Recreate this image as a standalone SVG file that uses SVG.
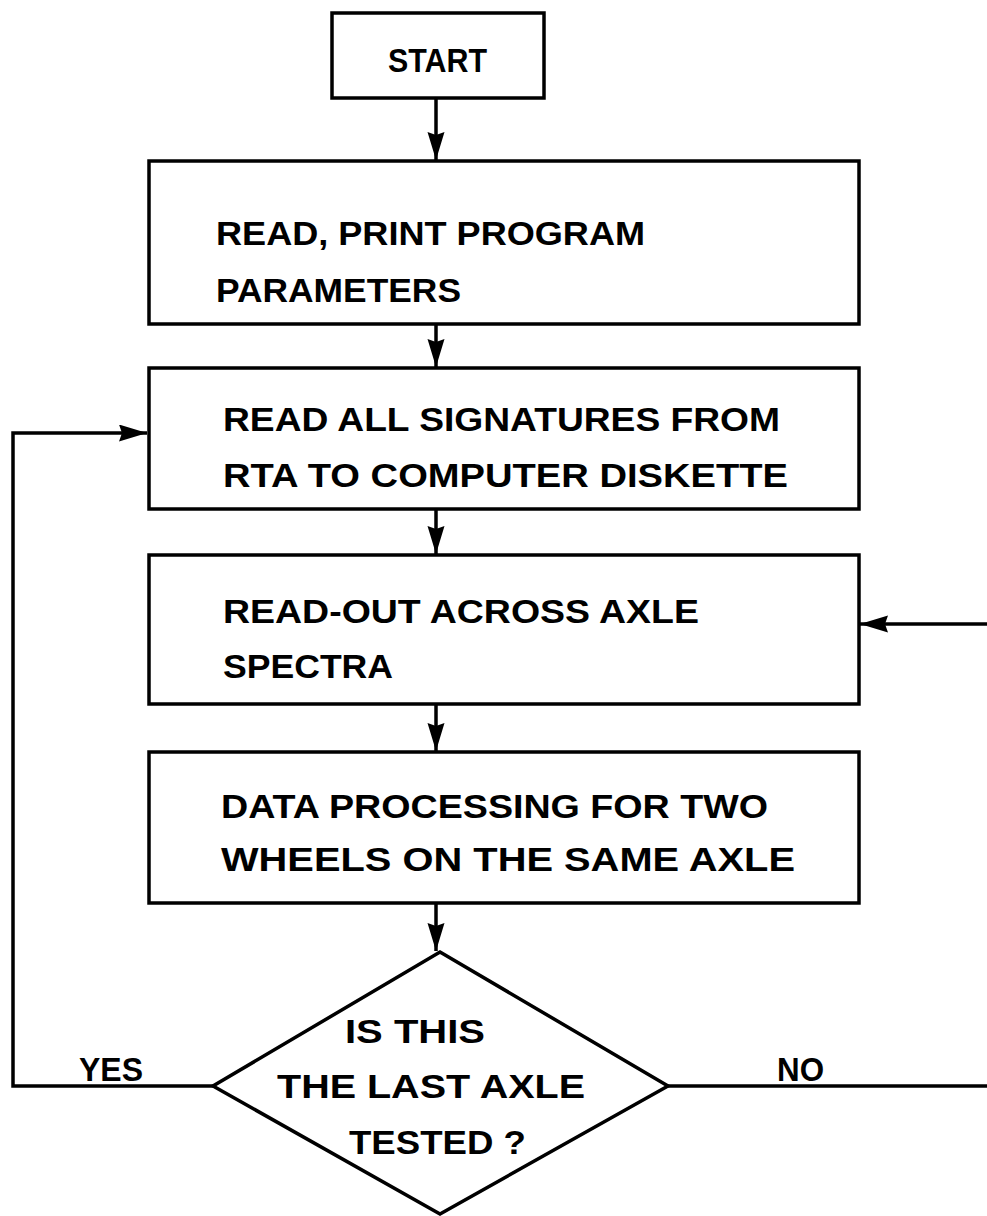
<svg xmlns="http://www.w3.org/2000/svg" width="987" height="1216" viewBox="0 0 987 1216">
<style>
.box{fill:none;stroke:#000;stroke-width:3.5}
.ln{fill:none;stroke:#000;stroke-width:3.5}
.t{font-family:"Liberation Sans",Arial,sans-serif;font-weight:bold;font-size:33px;fill:#000}
</style>
<defs>
<marker id="ah" markerUnits="userSpaceOnUse" markerWidth="30" markerHeight="18" refX="28" refY="8.5" orient="auto">
<path d="M0,0 L28,8.5 L0,17 L3,8.5 z" fill="#000"/>
</marker>
</defs>
<rect width="987" height="1216" fill="#fff"/>
<g id="connectors">
<line class="ln" x1="436" y1="98" x2="436" y2="160" marker-end="url(#ah)"/>
<line class="ln" x1="436" y1="324" x2="436" y2="367" marker-end="url(#ah)"/>
<line class="ln" x1="436" y1="509" x2="436" y2="554" marker-end="url(#ah)"/>
<line class="ln" x1="436" y1="704" x2="436" y2="751" marker-end="url(#ah)"/>
<line class="ln" x1="436" y1="903" x2="436" y2="951" marker-end="url(#ah)"/>
<polyline class="ln" points="213,1086 13,1086 13,433 147,433" marker-end="url(#ah)"/>
<line class="ln" x1="668" y1="1086" x2="987" y2="1086"/>
<line class="ln" x1="987" y1="624" x2="860" y2="624" marker-end="url(#ah)"/>
<text class="t" x="79" y="1081" textLength="64" lengthAdjust="spacingAndGlyphs">YES</text>
<text class="t" x="777" y="1081" textLength="47" lengthAdjust="spacingAndGlyphs">NO</text>
</g>
<g id="start">
<rect class="box" x="332" y="13" width="212" height="85"/>
<text class="t" x="388" y="72" textLength="99" lengthAdjust="spacingAndGlyphs">START</text>
</g>
<g id="read-params">
<rect class="box" x="149" y="161" width="710" height="163"/>
<text class="t" x="216" y="245" textLength="429" lengthAdjust="spacingAndGlyphs">READ, PRINT PROGRAM</text>
<text class="t" x="216" y="302" textLength="245" lengthAdjust="spacingAndGlyphs">PARAMETERS</text>
</g>
<g id="read-signatures">
<rect class="box" x="149" y="368" width="710" height="141"/>
<text class="t" x="223" y="431" textLength="557" lengthAdjust="spacingAndGlyphs">READ ALL SIGNATURES FROM</text>
<text class="t" x="223" y="487" textLength="565" lengthAdjust="spacingAndGlyphs">RTA TO COMPUTER DISKETTE</text>
</g>
<g id="read-out">
<rect class="box" x="149" y="555" width="710" height="149"/>
<text class="t" x="223" y="623" textLength="476" lengthAdjust="spacingAndGlyphs">READ-OUT ACROSS AXLE</text>
<text class="t" x="223" y="678" textLength="170" lengthAdjust="spacingAndGlyphs">SPECTRA</text>
</g>
<g id="data-processing">
<rect class="box" x="149" y="752" width="710" height="151"/>
<text class="t" x="221" y="818" textLength="547" lengthAdjust="spacingAndGlyphs">DATA PROCESSING FOR TWO</text>
<text class="t" x="221" y="871" textLength="574" lengthAdjust="spacingAndGlyphs">WHEELS ON THE SAME AXLE</text>
</g>
<g id="decision">
<polygon class="box" points="440,952 668,1086 440,1214 213,1086"/>
<text class="t" x="345" y="1043" textLength="140" lengthAdjust="spacingAndGlyphs">IS THIS</text>
<text class="t" x="277" y="1098" textLength="308" lengthAdjust="spacingAndGlyphs">THE LAST AXLE</text>
<text class="t" x="349" y="1154" textLength="177" lengthAdjust="spacingAndGlyphs">TESTED ?</text>
</g>
</svg>
